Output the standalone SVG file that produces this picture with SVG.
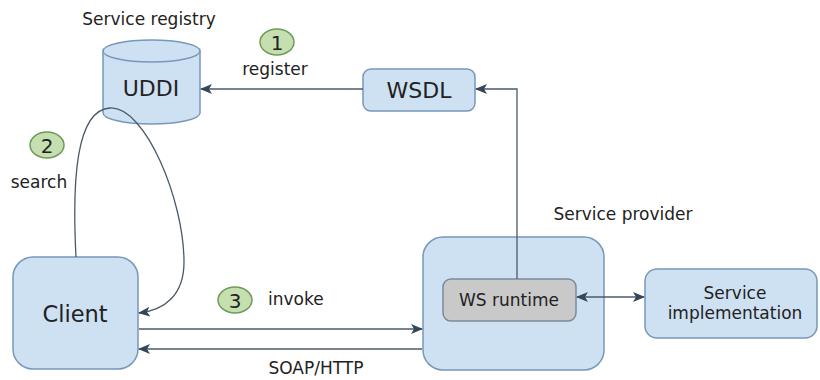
<svg xmlns="http://www.w3.org/2000/svg" width="820" height="380" viewBox="0 0 820 380">
  <defs>
    <marker id="arr" viewBox="0 0 12 10" refX="11" refY="5" markerWidth="12" markerHeight="10" markerUnits="userSpaceOnUse" orient="auto">
      <path d="M0,0 L12,5 L0,10 L3,5 Z" fill="#34465a"/>
    </marker>
    <marker id="arrStart" viewBox="0 0 12 10" refX="1" refY="5" markerWidth="12" markerHeight="10" markerUnits="userSpaceOnUse" orient="auto">
      <path d="M12,0 L0,5 L12,10 L9,5 Z" fill="#34465a"/>
    </marker>
  </defs>
  <style>
    text { font-family: "DejaVu Sans", "Liberation Sans", sans-serif; fill: #222; }
    .box { fill: #cde1f2; stroke: #7897ba; stroke-width: 1.5; }
    .grey { fill: #c9c9c9; stroke: #7d8a98; stroke-width: 1.5; }
    .step { fill: #c6dfb0; stroke: #6e9a5a; stroke-width: 1.5; }
    .line { fill: none; stroke: #4a5a6a; stroke-width: 1.3; }
    .lbl { font-size: 17px; }
  </style>
  <rect width="820" height="380" fill="#ffffff"/>

  <!-- registry -->
  <g id="uddi">
    <path class="box" d="M103,51 L103,113 A48.5,11 0 0 0 200,113 L200,51"/>
    <ellipse class="box" cx="151.5" cy="51" rx="48.5" ry="11"/>
    <text x="151" y="96" font-size="22" text-anchor="middle">UDDI</text>
    <text x="149" y="25" font-size="17" text-anchor="middle">Service registry</text>
  </g>

  <g id="wsdl">
    <rect class="box" x="363" y="69" width="112" height="42" rx="8"/>
    <text x="419" y="98" font-size="22" text-anchor="middle">WSDL</text>
  </g>

  <g id="provider">
    <rect class="box" x="423" y="237" width="181" height="133" rx="20"/>
    <text x="623" y="220" font-size="17" text-anchor="middle">Service provider</text>
  </g>

  <g id="runtime">
    <rect class="grey" x="443" y="279" width="133" height="42" rx="8"/>
    <text x="509" y="306" font-size="17" text-anchor="middle">WS runtime</text>
  </g>

  <g id="impl">
    <rect class="box" x="645" y="269" width="172" height="69" rx="12"/>
    <text x="735" y="299" font-size="17" text-anchor="middle">Service</text>
    <text x="735" y="319" font-size="17" text-anchor="middle">implementation</text>
  </g>

  <g id="client">
    <rect class="box" x="13" y="257" width="125" height="112" rx="20"/>
    <text x="75" y="322" font-size="22.5" text-anchor="middle">Client</text>
  </g>

  <!-- connectors -->
  <g id="connectors">
    <path class="line" d="M363,89 L201,89" marker-end="url(#arr)"/>
    <path class="line" d="M517,279 L517,89 L476,89" marker-end="url(#arr)"/>
    <path class="line" d="M577,297 L644,297" marker-start="url(#arrStart)" marker-end="url(#arr)"/>
    <path class="line" d="M139,329 L422,329" marker-end="url(#arr)"/>
    <path class="line" d="M422,349 L139,349" marker-end="url(#arr)"/>
    <path class="line" d="M76,257 C72,180 76,110 110,108 C145,106 184,200 184,262 C184,295 165,310 139,313" marker-end="url(#arr)"/>
  </g>

  <!-- step markers -->
  <g id="step1">
    <ellipse class="step" cx="277" cy="42" rx="17" ry="13"/>
    <text x="277" y="50" font-size="20" text-anchor="middle">1</text>
    <text x="275" y="75" class="lbl" text-anchor="middle">register</text>
  </g>
  <g id="step2">
    <ellipse class="step" cx="47" cy="145" rx="17" ry="13"/>
    <text x="47" y="153" font-size="20" text-anchor="middle">2</text>
    <text x="39" y="188" class="lbl" text-anchor="middle">search</text>
  </g>
  <g id="step3">
    <ellipse class="step" cx="235" cy="300" rx="17" ry="13"/>
    <text x="235" y="308" font-size="20" text-anchor="middle">3</text>
    <text x="268" y="305" class="lbl">invoke</text>
    <text x="316" y="374" class="lbl" text-anchor="middle">SOAP/HTTP</text>
  </g>
</svg>
